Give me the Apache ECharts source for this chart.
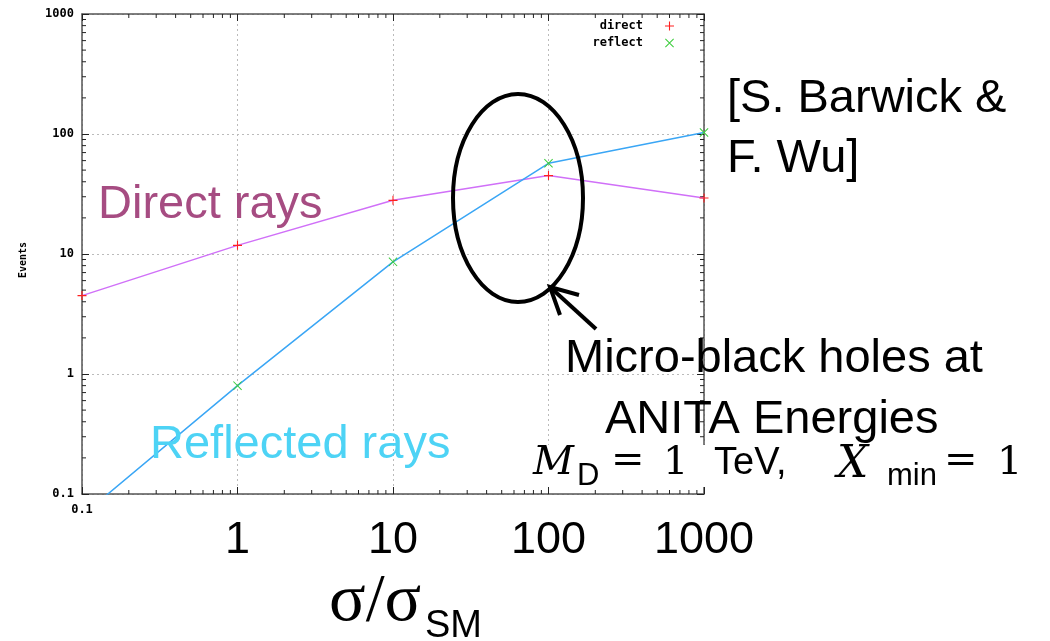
<!DOCTYPE html>
<html>
<head>
<meta charset="utf-8">
<title>Events vs cross-section</title>
<script src="https://cdn.jsdelivr.net/npm/echarts@6/dist/echarts.min.js"></script>
<style>
  html, body { margin: 0; padding: 0; background: #ffffff; }
  #chart { width: 1050px; height: 641px; }
</style>
</head>
<body>
<div id="chart"></div>
<script>
// cross-section ratio sigma / sigma_SM
const sigmaRatio = [0.1, 1, 10, 100, 1000];
// expected events, direct rays
const directEvents = [4.5, 11.8, 28, 45, 29.3];
// expected events, reflected rays
const reflectEvents = [0.066, 0.8, 8.6, 57, 103];
// decade tick values shared by both log axes
const decadeTicks = [0.1, 1, 10, 100, 1000];

// minor ticks at 2..9 within each decade
const minorTicks = [];
for (let k = 0; k < decadeTicks.length - 1; k++) {
  for (let m = 2; m <= 9; m++) minorTicks.push(+(m * decadeTicks[k]).toPrecision(3));
}

const MONO = 'DejaVu Sans Mono';
const SANS = 'Liberation Sans';
const AXIS_COLOR = '#555555';

const plusPath = 'path://M0,4.4L10,4.4L10,5.6L0,5.6ZM4.4,0L5.6,0L5.6,10L4.4,10Z';
const crossPath = 'path://M0,0.8L0.8,0L10,9.2L9.2,10ZM9.2,0L10,0.8L0.8,10L0,9.2Z';

const chart = echarts.init(document.getElementById('chart'), null, { renderer: 'canvas' });

function logAxis(extra) {
  return Object.assign({
    type: 'log',
    logBase: 10,
    min: decadeTicks[0],
    max: decadeTicks[decadeTicks.length - 1],
    axisLine: { show: true, lineStyle: { color: AXIS_COLOR, width: 1.5 } },
    axisTick: { show: true, inside: true, length: 7, lineStyle: { color: '#222', width: 1 } },
    splitLine: { show: false },
    minorTick: { show: false }
  }, extra);
}

function txt(x, y, text, font, fill) {
  return { type: 'text', z: 100, left: x, top: y, style: { text: text, font: font, fill: fill || '#000' } };
}

const BIG = '47px "Liberation Sans"';
const MATH_IT = 'italic 40px "DejaVu Serif"';
const MATH_RM = '40px "DejaVu Serif"';
const SUB = '31px "Liberation Sans"';

const option = {
  backgroundColor: '#ffffff',
  animation: false,
  grid: { left: 82, right: 346, top: 14, bottom: 147, containLabel: false },
  legend: {
    data: [
      { name: 'direct', icon: plusPath },
      { name: 'reflect', icon: crossPath }
    ],
    orient: 'vertical',
    right: 371,
    top: 15,
    align: 'right',
    itemWidth: 9,
    itemHeight: 9,
    itemGap: 5,
    selectedMode: false,
    textStyle: { fontFamily: MONO, fontWeight: 'bold', fontSize: 12, color: '#000', padding: [0, 17, 0, 0] }
  },
  xAxis: [
    logAxis({
      position: 'bottom',
      splitLine: { show: true, lineStyle: { color: '#bbbbbb', type: [2, 3], width: 1 } },
      axisLabel: {
        show: true,
        margin: 10,
        showMinLabel: true,
        showMaxLabel: true,
        hideOverlap: false,
        formatter: function (v) {
          if (Math.abs(v - 0.1) < 1e-9) return '{s|0.1}';
          return '{b|' + Math.round(v) + '}';
        },
        rich: {
          s: { fontFamily: MONO, fontWeight: 'bold', fontSize: 12, color: '#000' },
          b: { fontFamily: SANS, fontSize: 45, color: '#000', padding: [14, 0, 0, 0] }
        }
      }
    }),
    logAxis({ position: 'top', axisLabel: { show: false } })
  ],
  yAxis: [
    logAxis({
      position: 'left',
      name: 'Events',
      nameLocation: 'middle',
      nameRotate: 90,
      nameGap: 54,
      nameTextStyle: { fontFamily: MONO, fontWeight: 'bold', fontSize: 10, color: '#000', padding: [0, 12, 0, 0] },
      splitLine: { show: true, lineStyle: { color: '#bbbbbb', type: [2, 3], width: 1 } },
      axisLabel: {
        show: true,
        margin: 8,
        showMinLabel: true,
        showMaxLabel: true,
        fontFamily: MONO,
        fontWeight: 'bold',
        fontSize: 12,
        color: '#000',
        formatter: function (v) {
          return Math.abs(v - 0.1) < 1e-9 ? '0.1' : String(Math.round(v));
        }
      }
    }),
    logAxis({ position: 'right', axisLabel: { show: false } })
  ],
  series: [
    {
      // minor ticks on all four sides of the frame
      type: 'custom',
      name: 'minor',
      silent: true,
      clip: false,
      xAxisIndex: 0,
      yAxisIndex: 0,
      data: minorTicks.map(v => [v, v]),
      encode: { x: 0, y: 1 },
      renderItem: function (params, api) {
        const v = api.value(0);
        const lo = decadeTicks[0];
        const hi = decadeTicks[decadeTicks.length - 1];
        const b = api.coord([v, lo]);
        const t = api.coord([v, hi]);
        const l = api.coord([lo, v]);
        const r = api.coord([hi, v]);
        const st = { stroke: '#222', lineWidth: 1 };
        const len = 4;
        return {
          type: 'group',
          children: [
            { type: 'line', shape: { x1: b[0], y1: b[1], x2: b[0], y2: b[1] - len }, style: st },
            { type: 'line', shape: { x1: t[0], y1: t[1], x2: t[0], y2: t[1] + len }, style: st },
            { type: 'line', shape: { x1: l[0], y1: l[1], x2: l[0] + len, y2: l[1] }, style: st },
            { type: 'line', shape: { x1: r[0], y1: r[1], x2: r[0] - len, y2: r[1] }, style: st }
          ]
        };
      }
    },
    {
      name: 'direct',
      type: 'line',
      data: sigmaRatio.map((x, i) => [x, directEvents[i]]),
      symbol: plusPath,
      symbolSize: 9,
      showAllSymbol: true,
      lineStyle: { color: '#d070f8', width: 1.5 },
      itemStyle: { color: '#ff2020' },
      z: 3
    },
    {
      name: 'reflect',
      type: 'line',
      data: sigmaRatio.map((x, i) => [x, reflectEvents[i]]),
      symbol: crossPath,
      symbolSize: 9,
      showAllSymbol: true,
      lineStyle: { color: '#3aa6f5', width: 1.5 },
      itemStyle: { color: '#3ccc3c' },
      z: 4
    }
  ],
  graphic: [
    // white box behind the parameter line
    { type: 'rect', z: 50, shape: { x: 527, y: 445, width: 515, height: 42 }, style: { fill: '#ffffff' } },
    txt(98, 182, 'Direct rays', BIG, '#a64c82'),
    txt(150, 422, 'Reflected rays', BIG, '#4dd3f5'),
    txt(727, 76, '[S. Barwick &', BIG),
    txt(727, 136, 'F. Wu]', BIG),
    txt(565, 336, 'Micro-black holes at', BIG),
    txt(605, 397, 'ANITA Energies', BIG),
    // M_D = 1 TeV, X_min = 1
    txt(533, 444, 'M', MATH_IT),
    txt(577, 461, 'D', SUB),
    txt(611, 442, '=', MATH_RM),
    txt(663, 444, '1', MATH_RM),
    txt(714, 445, 'TeV,', '38px "Liberation Sans"'),
    txt(837, 444, 'X', 'italic 44px "DejaVu Serif"'),
    txt(887, 461, 'min', SUB),
    txt(944, 442, '=', MATH_RM),
    txt(997, 444, '1', MATH_RM),
    // x axis title sigma / sigma_SM
    txt(329, 568, 'σ/σ', '68px "Liberation Serif"'),
    txt(425, 608, 'SM', '38px "Liberation Sans"'),
    // highlight ellipse and pointer arrow
    { type: 'ellipse', z: 100, shape: { cx: 518, cy: 198, rx: 65, ry: 104 }, style: { fill: 'none', stroke: '#000', lineWidth: 4 } },
    { type: 'polyline', z: 100, shape: { points: [[596, 329], [550, 287]] }, style: { fill: 'none', stroke: '#000', lineWidth: 4 } },
    { type: 'polyline', z: 100, shape: { points: [[579, 295], [550, 287], [560, 315]] }, style: { fill: 'none', stroke: '#000', lineWidth: 4, lineJoin: 'miter' } }
  ]
};

chart.setOption(option);
</script>
</body>
</html>
